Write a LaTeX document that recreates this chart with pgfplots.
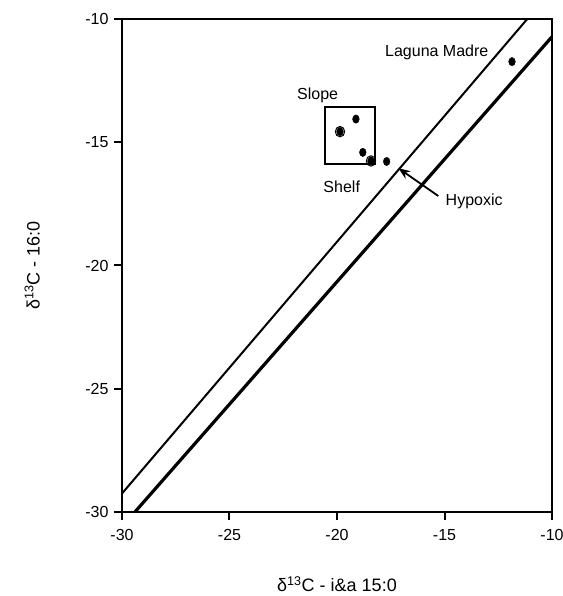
\documentclass[border=0pt]{standalone}
\usepackage{pgfplots}
\pgfplotsset{compat=1.18}
\usepackage{fontspec}
\setmainfont{Liberation Sans}
\usetikzlibrary{arrows.meta}
\begin{document}
\fontsize{16bp}{19bp}\selectfont
\begin{tikzpicture}
\useasboundingbox (-122bp,-84bp) rectangle (441bp,512bp);
\begin{axis}[
  at={(0,0)}, anchor=south west,
  scale only axis, width=430bp, height=493bp,
  xmin=-30, xmax=-10, ymin=-30, ymax=-10,
  xtick={-30,-25,-20,-15,-10}, ytick={-30,-25,-20,-15,-10},
  xtick pos=left, ytick pos=left, tick align=outside,
  major tick length=8bp,
  axis line style={line width=2bp},
  every tick/.style={line width=2bp, black},
  /pgf/number format/assume math mode=true,
  ticklabel style={font=\fontsize{16bp}{19bp}\selectfont},
  xticklabel style={yshift=-4bp},
  yticklabel style={xshift=0bp},
  xlabel={δ\textsuperscript{13}C - i\&a 15:0},
  ylabel={δ\textsuperscript{13}C - 16:0},
  label style={font=\fontsize{18bp}{21bp}\selectfont},
  xlabel style={at={(rel axis cs:0.5,0)}, anchor=center, yshift=-72bp},
  ylabel style={at={(axis description cs:-0.209,0.5)}, anchor=center},
]
% upper thin line
\addplot[black, line width=2bp] coordinates {(-30,-29.25) (-11.15,-10)};
% lower thick line
\addplot[black, line width=3.2bp] coordinates {(-29.4,-30) (-10,-10.72)};
% data points
\addplot[only marks, mark=*, mark size=4.2bp, mark options={fill=black, draw=black, xscale=0.8}]
  coordinates {(-19.12,-14.06) (-19.86,-14.57) (-18.80,-15.41) (-18.42,-15.76) (-17.69,-15.78) (-11.86,-11.73)};
% rings around two points
\addplot[only marks, mark=o, mark size=5.2bp, mark options={draw=black, line width=1bp, xscale=0.9}]
  coordinates {(-19.86,-14.57) (-18.42,-15.76)};
\draw[line width=1.8bp] (axis cs:-20.56,-13.58) rectangle (axis cs:-18.23,-15.87);
\node at (axis cs:-20.9,-13.08) {Slope};
\node at (axis cs:-19.78,-16.82) {Shelf};
\node at (axis cs:-15.36,-11.35) {Laguna Madre};
\node at (axis cs:-13.62,-17.41) {Hypoxic};
\draw[line width=1.8bp, -{Stealth[length=12bp, width=9bp]}] (axis cs:-15.29,-17.18) -- (axis cs:-17.15,-16.05);
\end{axis}
\end{tikzpicture}
\end{document}
